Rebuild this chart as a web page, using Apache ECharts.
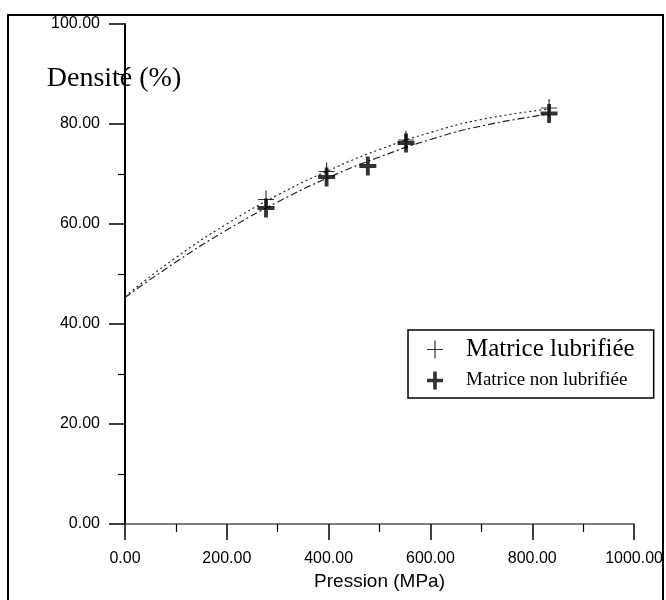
<!DOCTYPE html>
<html>
<head>
<meta charset="utf-8">
<script src="https://cdn.jsdelivr.net/npm/echarts@6/dist/echarts.min.js"></script>
<style>html,body{margin:0;padding:0;background:#fff;}#c{width:666px;height:600px;}</style>
</head>
<body>
<div id="c"></div>
<script>
// Measured points (Pression MPa, Densité %)
const pressureLub = [277, 396, 552, 833];
const densityLub = [64.9, 70.5, 76.8, 83.2];
const pressureNonLub = [277, 396, 477, 552, 833];
const densityNonLub = [63.2, 69.4, 71.6, 76.2, 82.1];
// Fitted curves
const curveX = [0, 100, 200, 300, 400, 500, 600, 700, 833];
const curveLub = [45.5, 53.3, 60.0, 65.8, 70.7, 74.9, 78.3, 80.9, 83.0];
const curveNonLub = [45.3, 52.4, 58.8, 64.4, 69.3, 73.4, 76.9, 79.6, 82.0];
// Axis ticks
const xTicks = [0, 200, 400, 600, 800, 1000];
const yTicks = [0, 20, 40, 60, 80, 100];
const seriesNames = ['Matrice lubrifiée', 'Matrice non lubrifiée'];

const thinCross = 'path://M7.4,0h1.2v8.4h7.4v1.2h-7.4v8.4h-1.2v-8.4h-7.4v-1.2h7.4z';
const boldCross = 'path://M6.2,0h3.6v7.2h6.2v3.6h-6.2v7.2h-3.6v-7.2h-6.2v-3.6h6.2z';

const zip = (xs, ys) => xs.map((x, i) => [x, ys[i]]);

const chart = echarts.init(document.getElementById('c'), null, {renderer: 'canvas'});
chart.setOption({
  animation: false,
  backgroundColor: '#fff',
  grid: {left: 125, right: 29, top: 24, bottom: 76, containLabel: false},
  graphic: [{
    type: 'rect', shape: {x: 8, y: 15, width: 655, height: 600},
    style: {fill: 'none', stroke: '#000', lineWidth: 2}, silent: true, z: -1
  }],
  legend: {
    orient: 'vertical', left: 408, top: 330,
    borderColor: '#000', borderWidth: 1.5, padding: [7, 19, 8, 19],
    itemWidth: 16, itemHeight: 18, itemGap: 9,
    data: [
      {name: seriesNames[0], icon: thinCross},
      {name: seriesNames[1], icon: boldCross}
    ],
    formatter: n => n === seriesNames[0] ? '{a|' + n + '}' : '{b|' + n + '}',
    textStyle: {
      color: '#000',
      rich: {
        a: {fontFamily: 'Liberation Serif', fontSize: 25, lineHeight: 26, padding: [0, 0, 0, 18], color: '#000'},
        b: {fontFamily: 'Liberation Serif', fontSize: 19, lineHeight: 20, padding: [0, 0, 0, 18], color: '#000'}
      }
    }
  },
  xAxis: {
    type: 'value', min: xTicks[0], max: xTicks[xTicks.length - 1], interval: 200,
    name: 'Pression (MPa)', nameLocation: 'middle', nameGap: 46,
    nameTextStyle: {fontFamily: 'Liberation Sans', fontSize: 19, color: '#000'},
    axisLine: {show: true, onZero: false, lineStyle: {color: '#555', width: 1.5}},
    axisTick: {show: true, length: 16, lineStyle: {color: '#000', width: 1.5}},
    minorTick: {show: true, splitNumber: 2, length: 8, lineStyle: {color: '#000', width: 1.2}},
    axisLabel: {margin: 27, fontFamily: 'Liberation Sans', fontSize: 16, color: '#000',
      formatter: v => v.toFixed(2)},
    splitLine: {show: false}
  },
  yAxis: {
    type: 'value', min: yTicks[0], max: yTicks[yTicks.length - 1], interval: 20,
    name: 'Densité (%)', nameLocation: 'end', nameGap: -55,
    nameTextStyle: {fontFamily: 'Liberation Serif', fontSize: 28, color: '#000',
      align: 'center', verticalAlign: 'middle', padding: [0, 22, 0, 0]},
    axisLine: {show: true, onZero: false, lineStyle: {color: '#000', width: 2}},
    axisTick: {show: true, length: 16, lineStyle: {color: '#000', width: 1.5}},
    minorTick: {show: true, splitNumber: 2, length: 7, lineStyle: {color: '#000', width: 1.2}},
    axisLabel: {margin: 25, fontFamily: 'Liberation Sans', fontSize: 16, color: '#000',
      formatter: v => v.toFixed(2)},
    splitLine: {show: false}
  },
  series: [
    {
      name: 'curveLub', type: 'line', data: zip(curveX, curveLub), smooth: true,
      symbol: 'none', lineStyle: {color: '#222', width: 1.2, type: [2, 3]}, z: 2
    },
    {
      name: 'curveNonLub', type: 'line', data: zip(curveX, curveNonLub), smooth: true,
      symbol: 'none', lineStyle: {color: '#222', width: 1.2, type: [7, 3, 2, 3]}, z: 2
    },
    {
      name: seriesNames[0], type: 'scatter', data: zip(pressureLub, densityLub),
      symbol: thinCross, symbolSize: [16, 18], itemStyle: {color: '#000'}, z: 3
    },
    {
      name: seriesNames[1], type: 'scatter', data: zip(pressureNonLub, densityNonLub),
      symbol: boldCross, symbolSize: [17, 19], itemStyle: {color: '#000'}, z: 4
    }
  ]
});
</script>
</body>
</html>
